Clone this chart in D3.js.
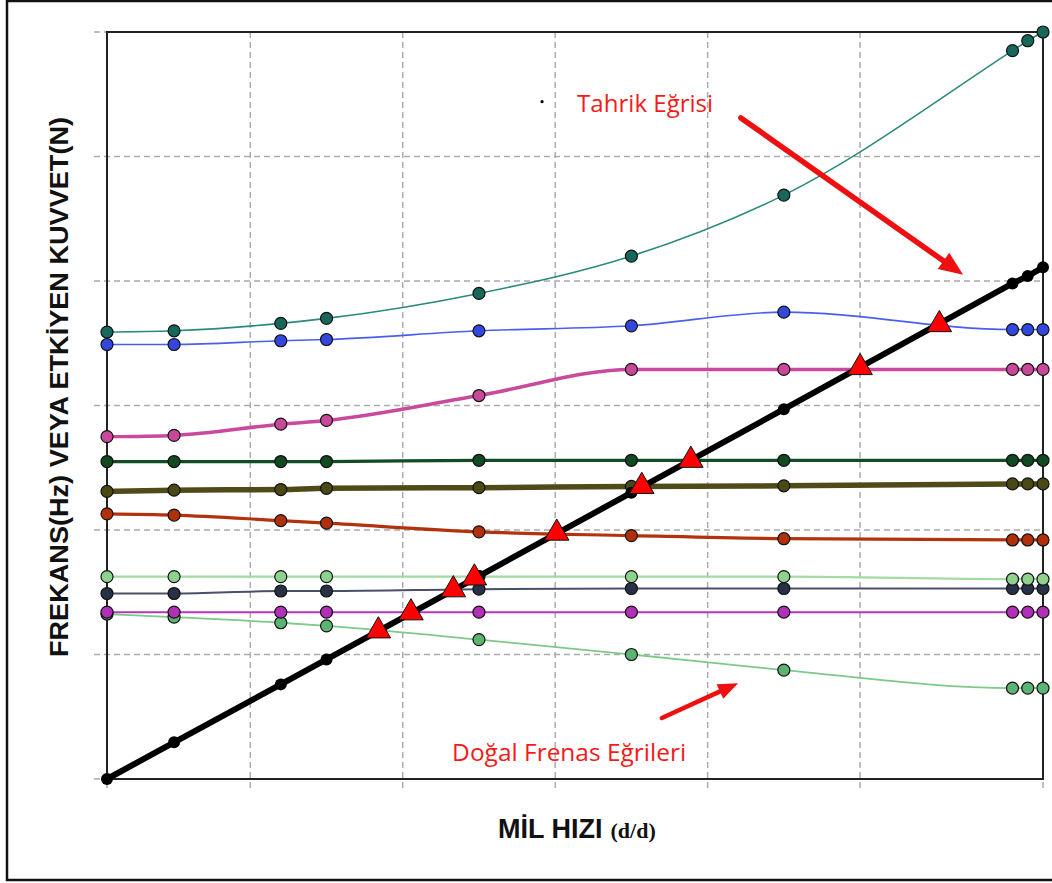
<!DOCTYPE html>
<html>
<head>
<meta charset="utf-8">
<script src="https://cdn.jsdelivr.net/npm/d3@7"></script>
<style>
  html, body { margin: 0; padding: 0; background: #fff; overflow: hidden; }
  svg { display: block; }
</style>
</head>
<body>
<svg id="chart" width="1052" height="883"></svg>
<script>
// Shaft speed (d/d) at which each curve was sampled
const speeds = [30, 250, 600, 750, 1250, 1750, 2250, 3000, 3050, 3100];

// Natural frequency curves
const curveTeal      = [35.9, 36.0, 36.6, 37.0, 39.0, 42.0, 46.9, 58.5, 59.3, 60.0];
const curveBlue      = [34.9, 34.9, 35.2, 35.3, 36.0, 36.4, 37.5, 36.1, 36.1, 36.1];
const curvePink      = [27.5, 27.6, 28.5, 28.8, 30.8, 32.9, 32.9, 32.9, 32.9, 32.9];
const curveDarkGreen = [25.5, 25.5, 25.5, 25.5, 25.6, 25.6, 25.6, 25.6, 25.6, 25.6];
const curveOlive     = [23.1, 23.2, 23.25, 23.35, 23.4, 23.5, 23.55, 23.7, 23.7, 23.7];
const curveRust      = [21.3, 21.2, 20.75, 20.55, 19.85, 19.55, 19.3, 19.2, 19.2, 19.2];
const curveNavy      = [14.9, 14.9, 15.1, 15.1, 15.25, 15.3, 15.3, 15.3, 15.3, 15.3];
const curveLightGrn  = [16.25, 16.25, 16.25, 16.25, 16.25, 16.25, 16.25, 16.05, 16.05, 16.05];
const curveGreen     = [13.25, 13.0, 12.55, 12.3, 11.2, 10.0, 8.75, 7.3, 7.3, 7.3];
const curvePurple    = [13.4, 13.4, 13.4, 13.4, 13.4, 13.4, 13.4, 13.4, 13.4, 13.4];

// Excitation (drive) line
const driveCurve = [0, 2.95, 7.6, 9.6, 16.3, 23.0, 29.7, 39.8, 40.4, 41.1];

// Crossings of the drive line with the natural frequency curves
const crossSpeeds = [920, 1027, 1166, 1235, 1505, 1784, 1945, 2500, 2760];
const crossValues = [11.9, 13.35, 15.2, 16.15, 19.75, 23.5, 25.6, 33.05, 36.5];

// Gridline positions
const xTicks = [30, 500, 1000, 1500, 2000, 2500, 3100];
const yTicks = [0, 10, 20, 30, 40, 50, 60];

// Text
const yTitle = "FREKANS(Hz) VEYA ETKİYEN KUVVET(N)";
const xTitleMain = "MİL HIZI";
const xTitleUnit = "(d/d)";
const driveLabel = "Tahrik Eğrisi";
const naturalLabel = "Doğal Frenas Eğrileri";

const svg = d3.select("#chart");
const margin = { left: 107, right: 9, top: 32, bottom: 104 };
const W = 1052, H = 883;

const x = d3.scaleLinear().domain([30, 3100]).range([margin.left, W - margin.right]);
const y = d3.scaleLinear().domain([0, 60]).range([H - margin.bottom, margin.top]);

// Outer frame
svg.append("rect")
  .attr("x", 7).attr("y", 1).attr("width", W + 20).attr("height", 879)
  .attr("fill", "none").attr("stroke", "#111").attr("stroke-width", 2.5);

// Gridlines (extend a little past the frame as tick marks)
const grid = svg.append("g").attr("stroke", "#ababab").attr("stroke-width", 1.5)
  .attr("stroke-dasharray", "6,4");
grid.selectAll("line.h").data(yTicks).join("line").attr("class", "h")
  .attr("x1", x.range()[0] - 13).attr("x2", x.range()[1])
  .attr("y1", d => y(d)).attr("y2", d => y(d));
grid.selectAll("line.v").data(xTicks).join("line").attr("class", "v")
  .attr("y1", y.range()[1]).attr("y2", y.range()[0] + 13)
  .attr("x1", d => x(d)).attr("x2", d => x(d));

// Plot frame
svg.append("rect")
  .attr("x", x.range()[0]).attr("y", y.range()[1])
  .attr("width", x.range()[1] - x.range()[0]).attr("height", y.range()[0] - y.range()[1])
  .attr("fill", "none").attr("stroke", "#222").attr("stroke-width", 2);

const seriesTable = [
  { values: curveTeal,      line: "#2b8a7b", fill: "#17685a", w: 1.6 },
  { values: curveBlue,      line: "#4a5ef0", fill: "#3347dd", w: 1.6 },
  { values: curvePink,      line: "#c94a9c", fill: "#c8489a", w: 3.5 },
  { values: curveDarkGreen, line: "#124c24", fill: "#0f4a20", w: 3.2 },
  { values: curveOlive,     line: "#4e4b18", fill: "#4a4815", w: 5.5 },
  { values: curveRust,      line: "#b3320e", fill: "#b0300c", w: 3.2 },
  { values: curveNavy,      line: "#4a5068", fill: "#283046", w: 2 },
  { values: curveLightGrn,  line: "#a3dba3", fill: "#8ed28e", w: 2.2 },
  { values: curveGreen,     line: "#7cc98a", fill: "#5cb472", w: 1.8 },
  { values: curvePurple,    line: "#b535bd", fill: "#b22fb8", w: 2 }
];

const lineGen = d3.line()
  .x((d, i) => x(speeds[i]))
  .y(d => y(d))
  .curve(d3.curveMonotoneX);

const lines = svg.append("g").attr("fill", "none");
seriesTable.forEach(s => {
  lines.append("path").attr("d", lineGen(s.values))
    .attr("stroke", s.line).attr("stroke-width", s.w);
});

const markers = svg.append("g");
seriesTable.forEach(s => {
  markers.append("g").selectAll("circle").data(s.values).join("circle")
    .attr("cx", (d, i) => x(speeds[i])).attr("cy", d => y(d)).attr("r", 6)
    .attr("fill", s.fill).attr("stroke", "#111").attr("stroke-width", 1.2);
});

// Drive line
svg.append("path").attr("d", d3.line().x((d, i) => x(speeds[i])).y(d => y(d))(driveCurve))
  .attr("fill", "none").attr("stroke", "#000").attr("stroke-width", 6);
svg.append("g").selectAll("circle").data(driveCurve).join("circle")
  .attr("cx", (d, i) => x(speeds[i])).attr("cy", d => y(d)).attr("r", 6)
  .attr("fill", "#000");

// Resonance crossings
const tri = d3.symbol().type(d3.symbolTriangle).size(260);
svg.append("g").selectAll("path").data(crossSpeeds).join("path")
  .attr("d", tri)
  .attr("transform", (d, i) => `translate(${x(d)},${y(crossValues[i])})`)
  .attr("fill", "#ff0000").attr("stroke", "#111").attr("stroke-width", 1);

// Annotations
const red = "#f51a1a";
svg.append("circle").attr("cx", x(1457)).attr("cy", y(54.4)).attr("r", 1.6).attr("fill", "#000");
svg.append("text").attr("x", x(1572)).attr("y", y(53.6))
  .attr("font-family", "Open Sans, Liberation Sans, sans-serif").attr("font-size", 23)
  .attr("fill", red).attr("textLength", 136).attr("lengthAdjust", "spacingAndGlyphs")
  .text(driveLabel);
svg.append("text").attr("x", x(1162)).attr("y", y(1.45))
  .attr("font-family", "Open Sans, Liberation Sans, sans-serif").attr("font-size", 23)
  .attr("fill", red).attr("textLength", 234).attr("lengthAdjust", "spacingAndGlyphs")
  .text(naturalLabel);

function arrow(x0, y0, x1, y1, lw, headLen, headW) {
  const px0 = x(x0), py0 = y(y0), px1 = x(x1), py1 = y(y1);
  const ang = Math.atan2(py1 - py0, px1 - px0);
  const bx = px1 - headLen * Math.cos(ang), by = py1 - headLen * Math.sin(ang);
  svg.append("line").attr("x1", px0).attr("y1", py0)
    .attr("x2", bx + 2 * Math.cos(ang)).attr("y2", by + 2 * Math.sin(ang))
    .attr("stroke", "#ee1010").attr("stroke-width", lw).attr("stroke-linecap", "round");
  const nx = -Math.sin(ang) * headW / 2, ny = Math.cos(ang) * headW / 2;
  svg.append("path")
    .attr("d", `M${px1},${py1}L${bx + nx},${by + ny}L${bx - nx},${by - ny}Z`)
    .attr("fill", "#ee1010");
}
arrow(2109, 53.1, 2838, 40.5, 5.5, 24, 20);
arrow(1850, 4.9, 2100, 7.7, 4.5, 20, 16);

// Axis titles
svg.append("text")
  .attr("transform", "translate(68,387) rotate(-90)")
  .attr("text-anchor", "middle")
  .attr("font-family", "Liberation Sans, Arial, sans-serif").attr("font-weight", "bold")
  .attr("font-size", 26).attr("fill", "#111")
  .attr("textLength", 540).attr("lengthAdjust", "spacingAndGlyphs")
  .text(yTitle);

const xt = svg.append("text").attr("x", 498).attr("y", 838)
  .attr("fill", "#111").attr("font-weight", "bold");
xt.append("tspan").attr("font-family", "Liberation Sans, Arial, sans-serif").attr("font-size", 27)
  .text(xTitleMain);
xt.append("tspan").attr("dx", 8).attr("font-family", "Liberation Serif, serif").attr("font-size", 22)
  .text(xTitleUnit);
</script>
</body>
</html>
